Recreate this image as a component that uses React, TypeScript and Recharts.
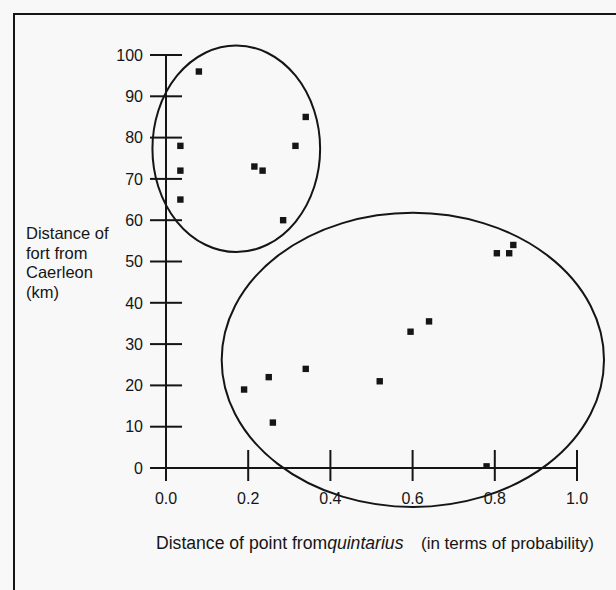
import { ScatterChart, Scatter, XAxis, YAxis, ReferenceArea } from "recharts";

// probability distance from the quintarius vs distance from Caerleon (km)
const upperGroupX = [0.08, 0.035, 0.035, 0.035, 0.215, 0.235, 0.315, 0.34, 0.285];
const upperGroupY = [96, 78, 72, 65, 73, 72, 78, 85, 60];
const lowerGroupX = [0.845, 0.835, 0.805, 0.64, 0.595, 0.34, 0.25, 0.19, 0.52, 0.26, 0.78];
const lowerGroupY = [54, 52, 52, 35.5, 33, 24, 22, 19, 21, 11, 0.4];

const xTicks = [0, 0.2, 0.4, 0.6, 0.8, 1.0];
const yTicks = [0, 10, 20, 30, 40, 50, 60, 70, 80, 90, 100];

// ellipses drawn round the two groups, as data-space bounds [x1, x2, y1, y2]
const groupRings = [
  [-0.033, 0.375, 52.3, 102.3],
  [0.1355, 1.0657, -9.44, 61.8],
];

const ink = "#151515";
const font = "Arial, 'Liberation Sans', Helvetica, sans-serif";

const points = [
  ...upperGroupX.map((x, i) => ({ x, y: upperGroupY[i] })),
  ...lowerGroupX.map((x, i) => ({ x, y: lowerGroupY[i] })),
];

function Square(props: any) {
  const { cx, cy } = props;
  return <rect x={cx - 3.2} y={cy - 3.2} width={6.4} height={6.4} fill={ink} />;
}

function Ring(props: any) {
  const { x, y, width, height } = props;
  return (
    <ellipse
      cx={x + width / 2}
      cy={y + height / 2}
      rx={Math.abs(width) / 2}
      ry={Math.abs(height) / 2}
      fill="none"
      stroke={ink}
      strokeWidth={2}
    />
  );
}

function YTick(props: any) {
  const { x, y, payload } = props;
  return (
    <g>
      <line x1={x - 16} x2={x + 16} y1={y} y2={y} stroke={ink} strokeWidth={2} />
      <text x={x - 23} y={y + 5.7} textAnchor="end" fontSize={16} fill={ink} fontFamily={font}>
        {payload.value}
      </text>
    </g>
  );
}

function XTick(props: any) {
  const { x, y, payload } = props;
  return (
    <g>
      <line x1={x} x2={x} y1={y - 18} y2={y + 13} stroke={ink} strokeWidth={2} />
      <text x={x} y={y + 36} textAnchor="middle" fontSize={16} fill={ink} fontFamily={font}>
        {Number(payload.value).toFixed(1)}
      </text>
    </g>
  );
}

export default function App() {
  return (
    <div
      style={{
        position: "absolute",
        left: 0,
        top: 0,
        width: 616,
        height: 590,
        background: "#f8f8f8",
        overflow: "hidden",
      }}
    >
      <div
        style={{
          position: "absolute",
          left: 13,
          top: 13,
          width: 620,
          height: 600,
          borderLeft: `2px solid ${ink}`,
          borderTop: `2px solid ${ink}`,
        }}
      />
      <div style={{ position: "absolute", left: 0, top: 0 }}>
        <ScatterChart
          width={616}
          height={590}
          margin={{ top: 55, right: 39, bottom: 92, left: 106 }}
          style={{ overflow: "visible" }}
        >
          <XAxis
            type="number"
            dataKey="x"
            domain={[0, 1]}
            ticks={xTicks}
            height={30}
            tickSize={0}
            tickMargin={0}
            tickLine={false}
            axisLine={{ stroke: ink, strokeWidth: 2 }}
            tick={(p: any) => <XTick {...p} />}
            interval={0}
            allowDataOverflow
          />
          <YAxis
            type="number"
            dataKey="y"
            domain={[0, 100]}
            ticks={yTicks}
            width={60}
            tickSize={0}
            tickMargin={0}
            tickLine={false}
            axisLine={{ stroke: ink, strokeWidth: 2 }}
            tick={(p: any) => <YTick {...p} />}
            interval={0}
            allowDataOverflow
          />
          {groupRings.map(([x1, x2, y1, y2], i) => (
            <ReferenceArea
              key={i}
              x1={x1}
              x2={x2}
              y1={y1}
              y2={y2}
              ifOverflow="visible"
              shape={(p: any) => <Ring {...p} />}
            />
          ))}
          <Scatter data={points} shape={(p: any) => <Square {...p} />} isAnimationActive={false} />
          <text fontSize={16.5} fill={ink} fontFamily={font}>
            <tspan x={26} y={239}>Distance of</tspan>
            <tspan x={26} y={258.5}>fort from</tspan>
            <tspan x={26} y={278}>Caerleon</tspan>
            <tspan x={26} y={297.5}>(km)</tspan>
          </text>
          <text y={549} fontSize={17.6} fill={ink} fontFamily={font}>
            <tspan x={156}>Distance of point from</tspan>
            <tspan fontStyle="italic">quintarius</tspan>
            <tspan x={421} fontSize={17}>(in terms of probability)</tspan>
          </text>
        </ScatterChart>
      </div>
    </div>
  );
}
